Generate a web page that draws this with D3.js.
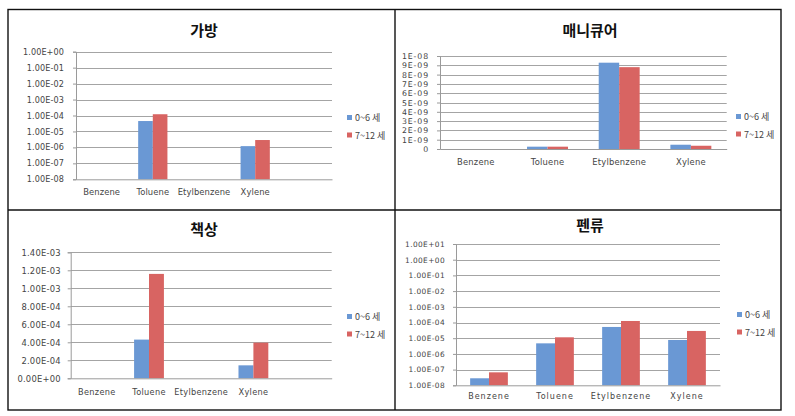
<!DOCTYPE html>
<html><head><meta charset="utf-8">
<script src="https://cdn.jsdelivr.net/npm/d3@7"></script>
<style>
html,body{margin:0;padding:0;background:#fff;}
svg{display:block;}
text{font-family:"DejaVu Sans",sans-serif;}
</style></head>
<body>
<script>
// ---------- data ----------
const seriesNames = ["0~6 세", "7~12 세"];
const categories5 = ["Benzene", "Toluene", "Etylbenzene", "Xylene", ""];
const categories4 = ["Benzene", "Toluene", "Etylbenzene", "Xylene"];

const bagTitle = "가방";
const bagAge0to6 = [null, 4.5e-5, null, 1.2e-6, null];
const bagAge7to12 = [null, 1.2e-4, null, 2.9e-6, null];
const bagTicks = [1e-8, 1e-7, 1e-6, 1e-5, 1e-4, 1e-3, 1e-2, 1e-1, 1e0];
const bagTickLabels = ["1.00E-08","1.00E-07","1.00E-06","1.00E-05","1.00E-04","1.00E-03","1.00E-02","1.00E-01","1.00E+00"];

const nailTitle = "매니큐어";
const nailAge0to6 = [0, 2.5e-10, 9.28e-9, 4.6e-10];
const nailAge7to12 = [0, 2.5e-10, 8.8e-9, 3.5e-10];
const nailTicks = [0, 1e-9, 2e-9, 3e-9, 4e-9, 5e-9, 6e-9, 7e-9, 8e-9, 9e-9, 1e-8];
const nailTickLabels = ["0","1E-09","2E-09","3E-09","4E-09","5E-09","6E-09","7E-09","8E-09","9E-09","1E-08"];

const deskTitle = "책상";
const deskAge0to6 = [0, 4.3e-4, 0, 1.44e-4, 0];
const deskAge7to12 = [0, 1.16e-3, 0, 3.96e-4, 0];
const deskTicks = [0, 2e-4, 4e-4, 6e-4, 8e-4, 1e-3, 1.2e-3, 1.4e-3];
const deskTickLabels = ["0.00E+00","2.00E-04","4.00E-04","6.00E-04","8.00E-04","1.00E-03","1.20E-03","1.40E-03"];

const penTitle = "펜류";
const penAge0to6 = [2.8e-8, 4.7e-6, 5.2e-5, 7.7e-6];
const penAge7to12 = [6.7e-8, 1.14e-5, 1.25e-4, 2.9e-5];
const penTicks = [1e-8, 1e-7, 1e-6, 1e-5, 1e-4, 1e-3, 1e-2, 1e-1, 1e0, 1e1];
const penTickLabels = ["1.00E-08","1.00E-07","1.00E-06","1.00E-05","1.00E-04","1.00E-03","1.00E-02","1.00E-01","1.00E+00","1.00E+01"];

const colors = ["#6a98d4", "#d86462"];

// ---------- layout ----------
const W = 795, H = 416;
const svg = d3.select("body").append("svg").attr("width", W).attr("height", H);

const panels = [
  {title: bagTitle, cats: categories5, s: [bagAge0to6, bagAge7to12], ticks: bagTicks, labels: bagTickLabels, log: true,
   x0: 76, x1: 332, y0: 51.7, y1: 179.3, tx: 204, ty: 32, lx: 347, ly: 115, cy: 194, fs: 8.1, ls: 0.1, pad: 9, cfs: 8.4, cls: 0.1},
  {title: nailTitle, cats: categories4, s: [nailAge0to6, nailAge7to12], ticks: nailTicks, labels: nailTickLabels, log: false,
   x0: 440, x1: 726.7, y0: 56, y1: 149, tx: 590, ty: 32, lx: 736, ly: 114, cy: 164.5, fs: 7.8, ls: 0.9, pad: 8, cfs: 8.4, cls: 0.2},
  {title: deskTitle, cats: categories5, s: [deskAge0to6, deskAge7to12], ticks: deskTicks, labels: deskTickLabels, log: false,
   x0: 70.7, x1: 331.7, y0: 252.3, y1: 378.3, tx: 204, ty: 231, lx: 347, ly: 314, cy: 394, fs: 8.4, ls: 0.2, pad: 7, cfs: 8.2, cls: 0.3},
  {title: penTitle, cats: categories4, s: [penAge0to6, penAge7to12], ticks: penTicks, labels: penTickLabels, log: true,
   x0: 456, x1: 720, y0: 244, y1: 385.3, tx: 590, ty: 227, lx: 737, ly: 312, cy: 398, fs: 7.4, ls: 0.4, pad: 8, cfs: 8, cls: 1}
];

// frame
const frame = svg.append("g").attr("fill", "none").attr("stroke", "#111").attr("stroke-width", 1.4);
frame.append("rect").attr("x", 8).attr("y", 9.5).attr("width", 773).attr("height", 400.5);
frame.append("line").attr("x1", 395).attr("x2", 395).attr("y1", 9.5).attr("y2", 410);
frame.append("line").attr("x1", 8).attr("x2", 781).attr("y1", 210).attr("y2", 210);

panels.forEach(p => {
  const g = svg.append("g");
  const x = d3.scaleBand().domain(p.cats.map((c, i) => i)).range([p.x0, p.x1]).padding(0);
  const lo = p.ticks[0], hi = p.ticks[p.ticks.length - 1];
  const y = p.log ? d3.scaleLog().domain([lo, hi]).range([p.y1, p.y0])
                  : d3.scaleLinear().domain([lo, hi]).range([p.y1, p.y0]);

  // gridlines
  g.append("g").selectAll("line").data(p.ticks.slice(1)).join("line")
    .attr("x1", p.x0).attr("x2", p.x1)
    .attr("y1", d => Math.round(y(d)) + 0.5).attr("y2", d => Math.round(y(d)) + 0.5)
    .attr("stroke", "#a4a4a4").attr("stroke-width", 1);

  // y axis
  const yAxis = d3.axisLeft(y).tickValues(p.ticks).tickFormat((d, i) => p.labels[i]).tickSize(3).tickPadding(p.pad);
  const ya = g.append("g").attr("transform", `translate(${p.x0},0)`).call(yAxis);
  ya.select(".domain").attr("stroke", "#9a9a9a");
  ya.selectAll(".tick line").attr("stroke", "#9a9a9a");
  ya.selectAll(".tick text").attr("fill", "#444").style("font-size", p.fs + "px")
    .style("letter-spacing", p.ls + "px").style("font-family", "DejaVu Sans");

  // bars
  const groupW = x.bandwidth() * 2 / 3.5;
  const bw = groupW / 2;
  p.s.forEach((vals, si) => {
    g.append("g").selectAll("rect").data(vals.map((v, i) => ({v, i})).filter(d => d.v !== null && d.v > lo))
      .join("rect")
      .attr("x", d => x(d.i) + (x.bandwidth() - groupW) / 2 + si * bw)
      .attr("width", bw)
      .attr("y", d => y(d.v))
      .attr("height", d => y(lo) - y(d.v))
      .attr("fill", colors[si]);
  });

  // x axis
  const xAxis = d3.axisBottom(x).tickFormat(i => p.cats[i]).tickSize(0).tickPadding(p.cy - p.y1 - 5);
  const xa = g.append("g").attr("transform", `translate(0,${p.y1})`).call(xAxis);
  xa.select(".domain").attr("stroke", "#9a9a9a");
  xa.selectAll(".tick text").attr("fill", "#444").style("font-size", p.cfs + "px")
    .style("letter-spacing", p.cls + "px").style("font-family", "DejaVu Sans");

  // title
  g.append("text").attr("x", p.tx).attr("y", p.ty).attr("text-anchor", "middle").attr("dominant-baseline", "middle")
    .style("font-family", "'Noto Sans CJK KR'").style("font-weight", "bold").style("font-size", "15px").attr("fill", "#111")
    .text(p.title);

  // legend
  seriesNames.forEach((n, si) => {
    const yy = p.ly + si * 17.5;
    g.append("rect").attr("x", p.lx).attr("y", yy).attr("width", 5).attr("height", 5).attr("fill", colors[si]);
    g.append("text").attr("x", p.lx + 8).attr("y", yy + 4).attr("dominant-baseline", "middle")
      .style("font-family", "'Noto Sans CJK KR'").style("font-size", "9px").attr("fill", "#444").text(n);
  });
});
</script>
</body></html>
